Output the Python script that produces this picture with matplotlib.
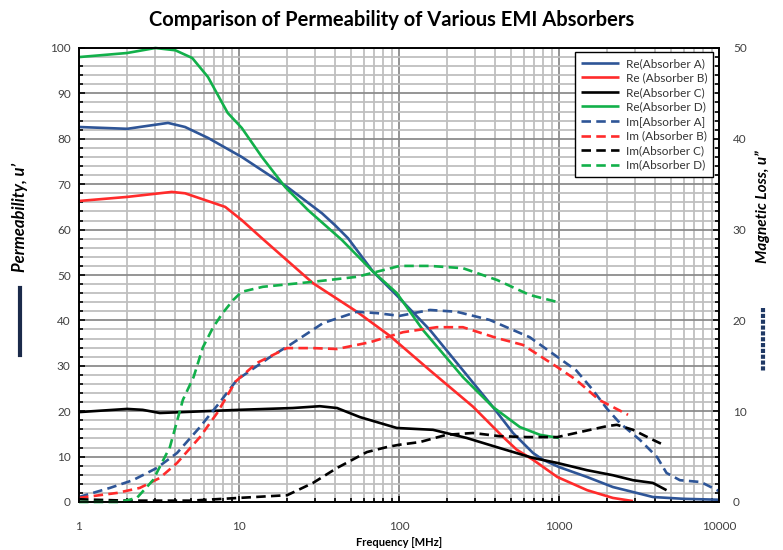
import matplotlib
matplotlib.use('Agg')
import numpy as np
import matplotlib.pyplot as plt
from matplotlib.lines import Line2D
from matplotlib.ticker import FixedLocator, MultipleLocator, LogLocator, NullFormatter

plt.rcParams['font.family'] = ['Lato', 'DejaVu Sans']

# Re (u') values, left axis
reA_f = [1, 2, 3.6, 4.6, 6.4, 10.4, 20, 33, 40, 48, 69, 100, 156, 387, 516, 688, 794, 1000, 1500, 2170, 2900, 3860, 6000, 10000]
reA = [82.6, 82.2, 83.5, 82.6, 80.2, 76.0, 69.4, 63.6, 60.9, 58.1, 50.7, 45.0, 37.9, 20.9, 15.2, 10.8, 9.3, 7.7, 5.5, 3.3, 2.2, 1.1, 0.7, 0.5]

reB_f = [1, 2, 3.8, 4.6, 8.2, 10.4, 13.9, 29, 54.6, 87.6, 156, 290, 448, 545, 688, 977, 1500, 2170, 2900]
reB = [66.3, 67.2, 68.3, 68.0, 65.0, 62.1, 58.1, 48.2, 41.9, 36.6, 29.0, 21.0, 14.3, 11.5, 9.3, 5.5, 2.6, 0.9, 0.2]

reC_f = [1, 2, 2.5, 3.2, 10, 21.7, 32, 41, 57, 97, 163, 265, 425, 688, 977, 1500, 2170, 2900, 3860, 4700]
reC = [19.8, 20.5, 20.3, 19.6, 20.3, 20.7, 21.1, 20.7, 18.7, 16.3, 15.9, 14.1, 11.9, 9.7, 8.6, 7.0, 5.9, 4.8, 4.2, 2.6]

reD_f = [1, 2, 3, 4, 5.1, 6.4, 8.5, 10.4, 13.9, 19.4, 27, 44, 69, 97, 141, 251, 387, 570, 760, 1000]
reD = [98.0, 98.9, 100.0, 99.5, 97.8, 93.6, 85.7, 82.4, 76.0, 69.4, 64.3, 57.7, 50.7, 46.0, 37.9, 27.5, 20.9, 16.5, 14.8, 14.1]

# Im (u'') values, right axis
imA_f = [1, 1.56, 2.17, 3.07, 4.1, 5.7, 7.6, 9.7, 15.6, 20.8, 33.5, 54.6, 72.9, 101, 156, 230, 369, 656, 1000, 1280,
         1600, 2000, 2400, 3200, 4100, 4700, 5700, 7700, 10000]
imA = [0.55, 1.55, 2.4, 3.75, 5.4, 8.25, 11.0, 13.45, 15.95, 17.3, 19.7, 20.95, 20.8, 20.5, 21.15, 20.95, 20.05, 18.15, 15.85, 14.5,
       12.5, 10.25, 8.7, 6.85, 4.95, 3.2, 2.4, 2.2, 1.2]

imB_f = [1, 1.73, 2.4, 3.2, 4.1, 5.7, 7.3, 9.5, 12.9, 19.9, 29, 41, 66, 106, 172, 251, 410, 595, 977, 1280, 1780, 2700]
imB = [0.45, 1.0, 1.55, 2.65, 4.3, 7.15, 9.8, 13.25, 15.3, 16.95, 16.95, 16.85, 17.6, 18.7, 19.25, 19.25, 18.05, 17.3, 14.85, 13.45, 11.25, 9.6]

imC_f = [1, 2, 5, 10, 20, 29, 41, 63, 84, 100, 135, 198, 290, 425, 630, 977, 1350, 1990, 2300, 2900, 3860, 4500]
imC = [0.3, 0.15, 0.15, 0.45, 0.75, 2.1, 3.75, 5.5, 6.05, 6.3, 6.6, 7.4, 7.6, 7.25, 7.15, 7.15, 7.7, 8.35, 8.5, 7.95, 6.85, 6.3]

imD_f = [1, 1.8, 2.3, 2.9, 3.7, 4.46, 5.2, 5.95, 6.9, 7.9, 9.2, 10.4, 14.1, 29, 54.6, 101, 156, 251, 410, 656, 990]
imD = [0.0, 0.0, 0.45, 2.4, 6.05, 11.25, 13.75, 17.05, 19.25, 20.8, 22.25, 23.15, 23.7, 24.25, 24.8, 26.0, 26.0, 25.75, 24.45, 22.8, 22.0]

labels_re = ["Re(Absorber A)", "Re (Absorber B)", "Re(Absorber C)", "Re(Absorber D)"]
labels_im = ["Im[Absorber A]", "Im (Absorber B)", "Im(Absorber C)", "Im(Absorber D)"]
colors = ['#2E5597', '#FF2B2B', '#000000', '#12B04A']

fig = plt.figure(figsize=(7.83, 5.5), dpi=100)
ax = fig.add_axes([79 / 783, 48 / 550, 640 / 783, 454 / 550])
ax2 = ax.twinx()

ax.set_xscale('log')
ax.set_xlim(1, 10000)
ax.set_ylim(0, 100)
ax2.set_ylim(0, 50)

# gitter
ax.yaxis.set_major_locator(MultipleLocator(10))
ax.yaxis.set_minor_locator(MultipleLocator(2))
ax.xaxis.set_major_locator(FixedLocator([1, 10, 100, 1000, 10000]))
ax.xaxis.set_minor_locator(LogLocator(base=10, subs=np.arange(2, 10)))
ax.xaxis.set_minor_formatter(NullFormatter())
ax.set_xticklabels(['1', '10', '100', '1000', '10000'])
ax.grid(which='minor', color='#BFBFBF', lw=1.3)
ax.grid(which='major', color='#8C8C8C', lw=1.3)
ax.set_axisbelow(True)

ax2.yaxis.set_major_locator(MultipleLocator(10))
ax2.yaxis.set_minor_locator(MultipleLocator(1))

for a in (ax, ax2):
    a.tick_params(which='both', direction='in', colors='#000000', labelcolor='#404040', labelsize=8.5)
    a.tick_params(which='major', length=4, width=1.2)
    a.tick_params(which='minor', length=3, width=1.2)
    for s in a.spines.values():
        s.set_linewidth(1.2)
ax.tick_params(axis='x', pad=14)
ax.tick_params(axis='y', pad=6)
ax2.tick_params(axis='y', pad=10)

handles = []
for f, v, c, lab in zip([reA_f, reB_f, reC_f, reD_f], [reA, reB, reC, reD], colors, labels_re):
    h, = ax.plot(f, v, color=c, lw=1.9, label=lab, clip_on=False, solid_capstyle='butt')
    handles.append(h)
for f, v, c, lab in zip([imA_f, imB_f, imC_f, imD_f], [imA, imB, imC, imD], colors, labels_im):
    h, = ax2.plot(f, v, color=c, lw=1.9, dashes=(3.6, 2), label=lab, clip_on=False)
    handles.append(h)

leg = ax2.legend(handles=handles, loc='upper right', bbox_to_anchor=(0.991, 0.991), borderaxespad=0,
                 fontsize=8.5, handlelength=3.2, labelspacing=0.3, fancybox=False, framealpha=1,
                 edgecolor='#000000', borderpad=0.5, handletextpad=0.6)
leg.get_frame().set_linewidth(1.0)
for t in leg.get_texts():
    t.set_color('#333333')

fig.text(0.5, 1 - 20 / 550, "Comparison of Permeability of Various EMI Absorbers",
         ha='center', va='center', fontsize=14.5, fontweight='bold')
fig.text(399 / 783, 1 - 543 / 550, "Frequency [MHz]", ha='center', va='center', fontsize=8, fontweight='bold')

fig.text(20 / 783, 1 - 217 / 550, "Permeability, u\u2019", rotation=90, ha='center', va='center',
         fontsize=12, fontweight='bold', style='italic')
fig.text(763 / 783, 1 - 207 / 550, "Magnetic Loss, u\u201d", rotation=90, ha='center', va='center',
         fontsize=11, fontweight='bold', style='italic')

# små linjer under aksetitlene
fig.add_artist(Line2D([20 / 783, 20 / 783], [1 - 288 / 550, 1 - 355 / 550], color='#1B2A4A', lw=3))
fig.add_artist(Line2D([763 / 783, 763 / 783], [1 - 308 / 550, 1 - 372 / 550], color='#1F3864', lw=3,
                      dashes=(1.0, 0.4)))

fig.savefig('out.png', dpi=100)
